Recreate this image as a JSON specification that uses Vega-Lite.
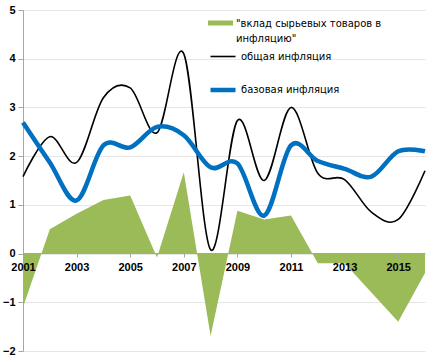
{
  "$schema": "https://vega.github.io/schema/vega-lite/v6.json",
  "width": 402,
  "height": 341,
  "autosize": {"type": "none"},
  "padding": {"left": 23, "top": 10, "right": 4, "bottom": 8},
  "background": "white",
  "config": {
    "view": {"stroke": null},
    "style": {"guide-label": {"lineHeight": 15}},
    "axis": {
      "labelFont": "Liberation Sans",
      "labelFontWeight": "bold",
      "labelFontSize": 11,
      "labelColor": "#000000",
      "domainColor": "#a6a6a6",
      "tickColor": "#a6a6a6",
      "gridColor": "#e6e6e6",
      "title": null
    },
    "legend": {
      "labelFont": "DejaVu Sans",
      "labelFontSize": 10,
      "labelColor": "#000000",
      "padding": 0
    }
  },
  "datasets": {
    "commodity": [
      {"year": 2001, "series": "\"вклад сырьевых товаров в инфляцию\"", "value": -1.1},
      {"year": 2002, "series": "\"вклад сырьевых товаров в инфляцию\"", "value": 0.5},
      {"year": 2003, "series": "\"вклад сырьевых товаров в инфляцию\"", "value": 0.82},
      {"year": 2004, "series": "\"вклад сырьевых товаров в инфляцию\"", "value": 1.1},
      {"year": 2005, "series": "\"вклад сырьевых товаров в инфляцию\"", "value": 1.19},
      {"year": 2006, "series": "\"вклад сырьевых товаров в инфляцию\"", "value": -0.08},
      {"year": 2007, "series": "\"вклад сырьевых товаров в инфляцию\"", "value": 1.67},
      {"year": 2008, "series": "\"вклад сырьевых товаров в инфляцию\"", "value": -1.69},
      {"year": 2009, "series": "\"вклад сырьевых товаров в инфляцию\"", "value": 0.88},
      {"year": 2010, "series": "\"вклад сырьевых товаров в инфляцию\"", "value": 0.7},
      {"year": 2011, "series": "\"вклад сырьевых товаров в инфляцию\"", "value": 0.78},
      {"year": 2012, "series": "\"вклад сырьевых товаров в инфляцию\"", "value": -0.2},
      {"year": 2013, "series": "\"вклад сырьевых товаров в инфляцию\"", "value": -0.2},
      {"year": 2014, "series": "\"вклад сырьевых товаров в инфляцию\"", "value": -0.8},
      {"year": 2015, "series": "\"вклад сырьевых товаров в инфляцию\"", "value": -1.4},
      {"year": 2016, "series": "\"вклад сырьевых товаров в инфляцию\"", "value": -0.4}
    ],
    "headline": [
      {"year": 2001, "series": "общая инфляция", "value": 1.58},
      {"year": 2002, "series": "общая инфляция", "value": 2.4},
      {"year": 2003, "series": "общая инфляция", "value": 1.87},
      {"year": 2004, "series": "общая инфляция", "value": 3.2},
      {"year": 2005, "series": "общая инфляция", "value": 3.4},
      {"year": 2006, "series": "общая инфляция", "value": 2.48},
      {"year": 2007, "series": "общая инфляция", "value": 4.1},
      {"year": 2008, "series": "общая инфляция", "value": 0.08},
      {"year": 2009, "series": "общая инфляция", "value": 2.73},
      {"year": 2010, "series": "общая инфляция", "value": 1.5},
      {"year": 2011, "series": "общая инфляция", "value": 3.0},
      {"year": 2012, "series": "общая инфляция", "value": 1.65},
      {"year": 2013, "series": "общая инфляция", "value": 1.52},
      {"year": 2014, "series": "общая инфляция", "value": 0.85},
      {"year": 2015, "series": "общая инфляция", "value": 0.7},
      {"year": 2016, "series": "общая инфляция", "value": 1.7}
    ],
    "core": [
      {"year": 2001, "series": "базовая инфляция", "value": 2.69},
      {"year": 2002, "series": "базовая инфляция", "value": 1.87},
      {"year": 2003, "series": "базовая инфляция", "value": 1.09},
      {"year": 2004, "series": "базовая инфляция", "value": 2.22},
      {"year": 2005, "series": "базовая инфляция", "value": 2.18},
      {"year": 2006, "series": "базовая инфляция", "value": 2.6},
      {"year": 2007, "series": "базовая инфляция", "value": 2.43},
      {"year": 2008, "series": "базовая инфляция", "value": 1.77},
      {"year": 2009, "series": "базовая инфляция", "value": 1.85},
      {"year": 2010, "series": "базовая инфляция", "value": 0.78},
      {"year": 2011, "series": "базовая инфляция", "value": 2.22},
      {"year": 2012, "series": "базовая инфляция", "value": 1.9},
      {"year": 2013, "series": "базовая инфляция", "value": 1.74},
      {"year": 2014, "series": "базовая инфляция", "value": 1.58},
      {"year": 2015, "series": "базовая инфляция", "value": 2.1},
      {"year": 2016, "series": "базовая инфляция", "value": 2.1}
    ]
  },
  "encoding": {
    "x": {
      "field": "year",
      "type": "quantitative",
      "scale": {"domain": [2001, 2016], "nice": false, "zero": false},
      "axis": {
        "values": [2001, 2003, 2005, 2007, 2009, 2011, 2013, 2015],
        "format": "d",
        "grid": false,
        "offset": -98,
        "tickSize": 4,
        "labelPadding": 4,
        "labelFlush": false,
        "zindex": 1
      }
    },
    "y": {
      "field": "value",
      "type": "quantitative",
      "scale": {"domain": [-2, 5], "nice": false},
      "axis": {
        "values": [-2, -1, 0, 1, 2, 3, 4, 5],
        "grid": true,
        "tickSize": 5,
        "labelPadding": 3
      }
    }
  },
  "layer": [
    {
      "data": {"name": "commodity"},
      "mark": {"type": "area", "interpolate": "linear", "opacity": 1},
      "encoding": {
        "fill": {
          "field": "series",
          "type": "nominal",
          "scale": {"range": ["#9BBB59"]},
          "legend": {
            "orient": "none",
            "legendX": 185,
            "legendY": 1,
            "title": null,
            "symbolType": "M-1,-0.24H1V0.16H-1Z",
            "symbolSize": 625,
            "symbolOpacity": 1,
            "symbolStrokeWidth": 0,
            "labelOffset": 3,
            "labelLimit": 300,
            "labelExpr": "['\"вклад сырьевых товаров в','инфляцию\"']"
          }
        }
      }
    },
    {
      "data": {"name": "headline"},
      "mark": {"type": "line", "interpolate": "cardinal"},
      "encoding": {
        "stroke": {
          "field": "series",
          "type": "nominal",
          "scale": {"domain": ["общая инфляция", "базовая инфляция"], "range": ["#000000", "#0070C0"]},
          "legend": {
            "orient": "none",
            "legendX": 185,
            "legendY": 33,
            "title": null,
            "symbolType": "stroke",
            "symbolSize": 625,
            "labelOffset": 3,
            "rowPadding": 13,
            "labelLimit": 300
          }
        },
        "strokeWidth": {
          "field": "series",
          "type": "nominal",
          "scale": {"domain": ["общая инфляция", "базовая инфляция"], "range": [1.6, 4.5]}
        }
      }
    },
    {
      "data": {"name": "core"},
      "mark": {"type": "line", "interpolate": "cardinal"},
      "encoding": {
        "stroke": {"field": "series", "type": "nominal"},
        "strokeWidth": {"field": "series", "type": "nominal"}
      }
    }
  ]
}
